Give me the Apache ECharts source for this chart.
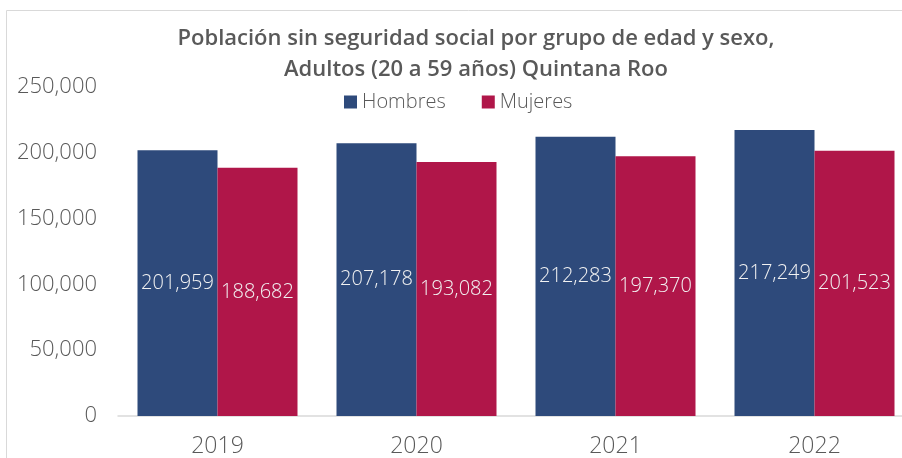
<!DOCTYPE html>
<html>
<head>
<meta charset="utf-8">
<script src="https://cdn.jsdelivr.net/npm/echarts@6/dist/echarts.min.js"></script>
<style>
  html, body { margin: 0; padding: 0; background: #fff; overflow: hidden; }
  #chart { width: 930px; height: 458px; }
</style>
</head>
<body>
<div id="chart"></div>
<script>
// data
var years = ['2019', '2020', '2021', '2022']
var hombres = [201959, 207178, 212283, 217249]
var mujeres = [188682, 193082, 197370, 201523]

var fmt = function (v) { return v.toLocaleString('en-US') }
var lightFont = 'Open Sans'

var chart = echarts.init(document.getElementById('chart'))
chart.setOption({
  animation: false,
  textStyle: { fontFamily: lightFont },
  graphic: [{
    type: 'rect',
    shape: { x: 6.5, y: 10.5, width: 1000, height: 1000 },
    style: { fill: 'none', stroke: '#d9d9d9', lineWidth: 1 },
    silent: true
  }],
  title: {
    text: 'Población sin seguridad social por grupo de edad y sexo,\nAdultos (20 a 59 años) Quintana Roo',
    left: 471, top: 18, textAlign: 'center',
    textStyle: { fontFamily: 'Open Sans', fontSize: 22, fontWeight: 600, color: '#595959', lineHeight: 31 }
  },
  legend: {
    data: ['Hombres', 'Mujeres'],
    left: 339, top: 87,
    itemWidth: 13, itemHeight: 13, itemGap: 36,
    icon: 'rect',
    textStyle: { fontSize: 20, color: '#595959', fontWeight: 300 }
  },
  grid: { left: 118, top: 87, width: 796, height: 329 },
  xAxis: {
    type: 'category', data: years,
    axisLine: { lineStyle: { color: '#d9d9d9', width: 1.5 } },
    axisTick: { show: false },
    axisLabel: { fontSize: 23, color: '#595959', fontWeight: 300, margin: 19 }
  },
  yAxis: {
    type: 'value', min: 0, max: 250000, interval: 50000,
    splitLine: { show: false },
    axisLine: { show: false },
    axisLabel: { fontSize: 22, color: '#595959', fontWeight: 300, margin: 21, formatter: fmt }
  },
  series: [
    {
      name: 'Hombres', type: 'bar', data: hombres,
      barWidth: 80, barGap: '0%',
      itemStyle: { color: '#2E4A7B' },
      label: { show: true, position: 'inside', color: '#f2f2f2', fontSize: 20, fontWeight: 300, formatter: function (p) { return fmt(p.value) } }
    },
    {
      name: 'Mujeres', type: 'bar', data: mujeres,
      barWidth: 80, barGap: '0%',
      itemStyle: { color: '#B01649' },
      label: { show: true, position: 'inside', color: '#f2f2f2', fontSize: 20, fontWeight: 300, formatter: function (p) { return fmt(p.value) } }
    }
  ]
})
</script>
</body>
</html>
